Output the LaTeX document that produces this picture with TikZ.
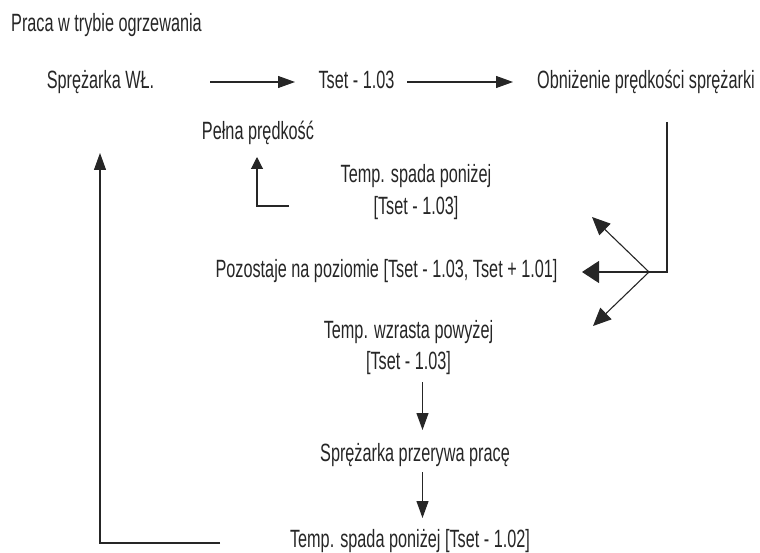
\documentclass[tikz,border=0pt]{standalone}
\usepackage{fontspec}
\setmainfont[FakeStretch=0.65]{Liberation Sans}
\usetikzlibrary{arrows.meta,calc}
\begin{document}
\begin{tikzpicture}[x=1pt,y=-1pt,
  lbl/.style={anchor=base, inner sep=0pt, font=\fontsize{25}{30}\selectfont, text=black!85},
  conn/.style={draw=black!85, line width=1.1pt},
  arr/.style={conn, -{Triangle[length=17pt,width=12pt]}},
  bigarr/.style={conn, -{Triangle[length=17pt,width=22pt]}},
  diagarr/.style={conn, -{Triangle[length=18pt,width=16pt]}},
  smallarr/.style={conn, -{Triangle[length=12pt,width=12pt]}}]
\useasboundingbox (0,0) rectangle (760,553);
\node[lbl, anchor=base west] (title) at (11,32) {Praca w trybie ogrzewania};
\node[lbl] (s1) at (100.5,89) {Sprężarka WŁ.};
\node[lbl] (t1) at (356.5,89) {Tset - 1.03};
\node[lbl] (ob) at (646,89) {Obniżenie prędkości sprężarki};
\node[lbl] (pelna) at (258,140) {Pełna prędkość};
\node[lbl] (spA) at (416,183) {Temp. spada poniżej};
\node[lbl] (spB) at (416,215) {[Tset - 1.03]};
\node[lbl] (poz) at (386.5,278) {Pozostaje na poziomie [Tset - 1.03, Tset + 1.01]};
\node[lbl] (wzA) at (408.5,338) {Temp. wzrasta powyżej};
\node[lbl] (wzB) at (408.5,369) {[Tset - 1.03]};
\node[lbl] (prz) at (415,461) {Sprężarka przerywa pracę};
\node[lbl] (bot) at (410,547) {Temp. spada poniżej [Tset - 1.02]};
% top row arrows
\draw[arr] ($(s1.base)+(109.5,-7)$) -- ($(t1.base)+(-61.5,-7)$);
\draw[arr] ($(t1.base)+(50.5,-7)$) -- ($(ob.base)+(-133,-7)$);
% right branch
\coordinate (j) at (649,272);
\draw[conn] ($(ob.base)+(21,33)$) |- (j);
\draw[bigarr] (j) -- ($(poz.base)+(195.5,-6)$);
\coordinate (ul) at (592,217);
\coordinate (dl) at (593,326);
\draw[diagarr] (j) -- (ul);
\draw[diagarr] (j) -- (dl);
% to full speed
\coordinate (ps) at (289,206);
\draw[smallarr] (ps) -| ($(pelna.base)+(-1,17)$);
% down arrows
\draw[arr] ($(prz.base |- wzB.base)+(7.5,13)$) -- ($(prz.base)+(7.5,-31)$);
\draw[arr] ($(prz.base)+(7.5,11)$) -- ($(prz.base |- bot.base)+(7.5,-29)$);
% return loop
\coordinate (ls) at (220,543);
\draw[arr] (ls) -| ($(s1.base)+(-0.5,64)$);
\end{tikzpicture}
\end{document}
